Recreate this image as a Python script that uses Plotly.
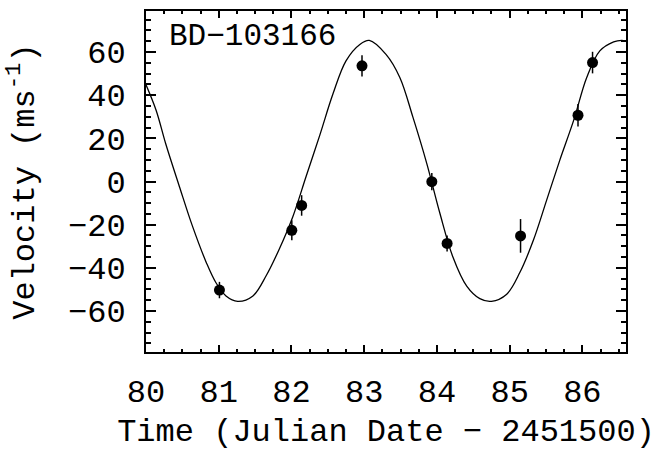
import plotly.graph_objects as go

# Observations
obs_t = [81.01, 82.005, 82.14, 82.97, 83.93, 84.14, 85.15, 85.94, 86.14]
obs_v = [-50.3, -22.6, -11.1, 53.6, -0.1, -28.7, -25.2, 30.7, 55.1]
obs_err = [3.8, 4.6, 4.75, 4.9, 4.0, 3.7, 7.8, 5.2, 5.0]

# Orbital fit curve
fit_t = [80.00, 80.14, 80.27, 80.46, 80.64, 80.83, 80.96, 81.10, 81.26, 81.47,
         81.65, 81.83, 82.02, 82.20, 82.39, 82.57, 82.75, 82.94, 83.07, 83.30,
         83.49, 83.67, 83.86, 84.04, 84.22, 84.41, 84.59, 84.75, 84.96, 85.14,
         85.33, 85.51, 85.69, 85.88, 86.06, 86.24, 86.43, 86.54, 86.61]
fit_v = [44.8, 32.9, 17.6, -2.4, -20.8, -37.6, -46.8, -53.0, -55.5, -53.0,
         -43.8, -31.5, -16.2, 2.2, 21.5, 40.5, 55.9, 63.5, 65.4, 58.9,
         48.2, 29.8, 8.4, -14.6, -35.0, -48.5, -54.3, -55.5, -52.2, -42.2,
         -26.9, -8.5, 9.9, 28.3, 48.2, 60.5, 64.7, 65.4, 65.0]

x_ticks = [80, 81, 82, 83, 84, 85, 86]
y_ticks = [-60, -40, -20, 0, 20, 40, 60]

star_name = "BD\u2212103166"
x_title = "Time (Julian Date \u2212 2451500)"
y_title = "Velocity (ms<sup>-1</sup>)"

FONT = "Liberation Mono"
FS = 32

fig = go.Figure()
fig.add_trace(go.Scatter(
    x=fit_t, y=fit_v, mode="lines", line=dict(color="black", width=1.3, shape="spline", smoothing=1.0),
    hoverinfo="skip", showlegend=False))
fig.add_trace(go.Scatter(
    x=obs_t, y=obs_v, mode="markers",
    marker=dict(color="black", size=11),
    error_y=dict(type="data", array=obs_err, visible=True, color="black", thickness=1.5, width=0),
    showlegend=False))

fig.add_annotation(text=star_name, xref="paper", yref="paper", x=0.044, y=0.926,
                   xanchor="left", yanchor="middle", showarrow=False,
                   font=dict(family=FONT, size=31, color="black"))

fig.update_layout(
    width=656, height=451,
    margin=dict(l=146, r=30, t=9, b=99),
    paper_bgcolor="white", plot_bgcolor="white",
    font=dict(family=FONT, size=FS, color="black"),
)
fig.update_xaxes(
    range=[80, 86.6], tickvals=x_ticks, ticktext=[str(v) for v in x_ticks],
    showgrid=False, zeroline=False, showline=True, linecolor="black", linewidth=2, mirror="ticks",
    ticks="inside", ticklen=7, tickwidth=2, tickcolor="black",
    minor=dict(dtick=0.25, tick0=80, ticks="inside", ticklen=3, tickwidth=1.5, tickcolor="black"),
    title=dict(text=x_title, font=dict(family=FONT, size=FS), standoff=7),
    tickfont=dict(family=FONT, size=FS),
    ticklabelstandoff=10,
)
fig.update_yaxes(
    range=[-79, 79], tickvals=y_ticks,
    showgrid=False, zeroline=False, showline=True, linecolor="black", linewidth=2, mirror="ticks",
    ticks="inside", ticklen=10, tickwidth=2, tickcolor="black",
    minor=dict(dtick=5, tick0=0, ticks="inside", ticklen=5, tickwidth=1.5, tickcolor="black"),
    title=dict(text=y_title, font=dict(family=FONT, size=FS), standoff=24),
    tickfont=dict(family=FONT, size=FS),
    ticklabelstandoff=12,
)

fig.write_html("out.html")
